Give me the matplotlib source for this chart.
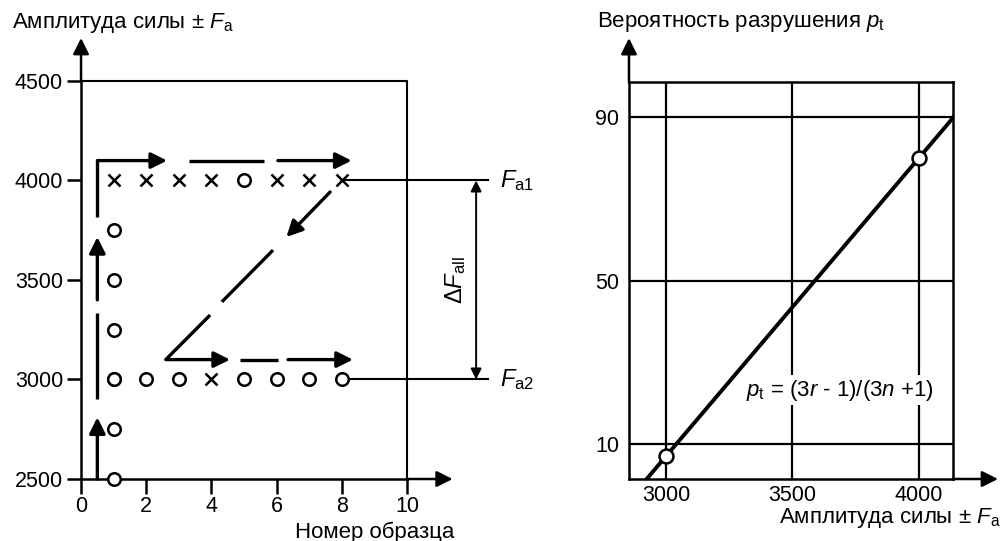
"""
Диаграмма: ступенчатый метод испытаний и вероятность разрушения
"""

import numpy as np
import matplotlib
matplotlib.use('Agg')
import matplotlib.pyplot as plt

matplotlib.rcParams['font.family'] = ['Liberation Sans', 'DejaVu Sans']
matplotlib.rcParams['mathtext.fontset'] = 'custom'
matplotlib.rcParams['mathtext.rm'] = 'Liberation Sans'
matplotlib.rcParams['mathtext.it'] = 'Liberation Sans:italic'
matplotlib.rcParams['mathtext.bf'] = 'Liberation Sans:bold'

FS_TICK = 15.5
FS = 16

# --- данные левого графика ---
specimens = [1, 2, 3, 4, 5, 6, 7, 8]
row_4000 = ['x', 'x', 'x', 'x', 'o', 'x', 'x', 'x']   # x - разрушение, o - нет
row_3000 = ['o', 'o', 'o', 'x', 'o', 'o', 'o', 'o']
first_levels = [2500, 2750, 3000, 3250, 3500, 3750]  # образец 1, ступени
F_a1 = 4000
F_a2 = 3000

# путь испытаний (штриховые стрелки): (x, y) точки, флаг стрелки в конце
path_segments = [
    ([0.5, 0.5], [2500, 2810], True),
    ([0.5, 0.5], [2900, 3335], False),
    ([0.5, 0.5], [3400, 3716], True),
    ([0.5, 0.5, 2.64], [3817, 4100, 4100], True),
    ([3.3, 5.6], [4100, 4100], False),
    ([6.04, 8.3], [4100, 4100], True),
    ([7.64, 6.3], [3942, 3716], True),
    ([5.89, 4.32], [3650, 3390], False),
    ([3.96, 2.6, 4.57], [3324, 3100, 3100], True),
    ([4.88, 6.04], [3100, 3100], False),
    ([6.35, 8.34], [3100, 3100], True),
]

# --- данные правого графика ---
amplitude = [3000, 4000]
p_fail = [7, 80]


def arrow(ax, x0, y0, x1, y1, lw=2.0, ms=18, style='-|>'):
    ax.annotate('', xy=(x1, y1), xytext=(x0, y0),
                arrowprops=dict(arrowstyle=style, lw=lw, color='black',
                                mutation_scale=ms, shrinkA=0, shrinkB=0),
                annotation_clip=False)


fig = plt.figure(figsize=(10.03, 5.41), dpi=100)

# ================= левый график =================
ax1 = fig.add_axes([0.0808, 0.1146, 0.325, 0.7357])
ax1.set_xlim(0, 10)
ax1.set_ylim(2500, 4500)
for s in ['top', 'right']:
    ax1.spines[s].set_visible(False)
for s in ['left', 'bottom']:
    ax1.spines[s].set_linewidth(1.8)
ax1.set_xticks([0, 2, 4, 6, 8, 10])
ax1.set_yticks([2500, 3000, 3500, 4000, 4500])
ax1.tick_params(direction='out', width=1.8, labelsize=FS_TICK)
ax1.tick_params(axis='y', length=10, pad=3)
ax1.tick_params(axis='x', length=10.5, pad=2)

# рамка сверху и справа
ax1.plot([0, 10, 10], [4500, 4500, 2500], color='black', lw=1.5, clip_on=False)
# стрелки осей
arrow(ax1, 0, 4500, 0, 4716, lw=1.8, ms=24)
arrow(ax1, 10, 2500, 11.4, 2500, lw=1.8, ms=24)

# штриховой путь
for xs, ys, head in path_segments:
    if head:
        ax1.plot(xs[:-1], ys[:-1], color='black', lw=2.4, solid_capstyle='butt')
        arrow(ax1, xs[-2], ys[-2], xs[-1], ys[-1], lw=2.4, ms=24)
    else:
        ax1.plot(xs, ys, color='black', lw=2.4, solid_capstyle='butt')

# линии уровней Fa1, Fa2
ax1.plot([8, 12.48], [F_a1, F_a1], color='black', lw=1.5, clip_on=False, zorder=1)
ax1.plot([8, 12.48], [F_a2, F_a2], color='black', lw=1.5, clip_on=False, zorder=1)
arrow(ax1, 12.12, 3500, 12.12, F_a1, lw=1.4, ms=16)
arrow(ax1, 12.12, 3500, 12.12, F_a2, lw=1.4, ms=16)
ax1.text(12.85, F_a1, r'$F_\mathrm{a1}$', fontsize=FS + 1, va='center', ha='left')
ax1.text(12.85, F_a2, r'$F_\mathrm{a2}$', fontsize=FS + 1, va='center', ha='left')
ax1.text(11.5, 3500, r'$\Delta F_\mathrm{all}$', fontsize=FS + 1, rotation=90,
         va='center', ha='center')


def draw_point(ax, x, y, kind):
    if kind == 'o':
        ax.plot(x, y, 'o', ms=9, mfc='white', mec='black', mew=1.8,
                zorder=5, clip_on=False)
    else:
        ax.plot(x, y, 'x', ms=8.5, mec='black', mew=1.8, zorder=5, clip_on=False)


for lvl in first_levels:
    draw_point(ax1, 1, lvl, 'o')
for x, k in zip(specimens, row_4000):
    draw_point(ax1, x, F_a1, k)
for x, k in zip(specimens, row_3000):
    draw_point(ax1, x, F_a2, k)

fig.text(12 / 1003, 1 - 28 / 541, r'Амплитуда силы ± $F_\mathrm{a}$',
         fontsize=FS, ha='left', va='baseline')
fig.text(454 / 1003, 1 - 538 / 541, 'Номер образца',
         fontsize=FS, ha='right', va='baseline')

# ================= правый график =================
ax2 = fig.add_axes([0.6271, 0.1146, 0.3230, 0.7338])
ax2.set_xlim(2854, 4134)
ax2.set_ylim(1.44, 98.56)
for s in ax2.spines.values():
    s.set_linewidth(1.8)
ax2.set_xticks([3000, 3500, 4000])
ax2.set_yticks([10, 50, 90])
ax2.tick_params(length=0, labelsize=FS_TICK)
ax2.tick_params(axis='x', pad=4)
ax2.tick_params(axis='y', pad=7)
ax2.grid(True, color='black', lw=1.6)
ax2.set_axisbelow(True)

arrow(ax2, 2854, 98.56, 2854, 109.3, lw=1.8, ms=24)
arrow(ax2, 4134, 1.44, 4312, 1.44, lw=1.8, ms=24)

# прямая через точки
k, b = np.polyfit(amplitude, p_fail, 1)
xx = np.array([2854, 4134])
ax2.plot(xx, k * xx + b, color='black', lw=2.8, zorder=3)
ax2.plot(amplitude, p_fail, 'o', ms=10, mfc='white', mec='black', mew=1.8, zorder=4)

ax2.text(3688, 23.2, r'$p_\mathrm{t}$ = (3$r$ - 1)/(3$n$ +1)', fontsize=FS,
         ha='center', va='center', zorder=5,
         bbox=dict(facecolor='white', edgecolor='none', pad=2))

fig.text(597 / 1003, 1 - 27 / 541, r'Вероятность разрушения $p_\mathrm{t}$',
         fontsize=FS, ha='left', va='baseline')
fig.text(1001 / 1003, 1 - 523 / 541, r'Амплитуда силы ± $F_\mathrm{a}$',
         fontsize=FS, ha='right', va='baseline')

fig.savefig('out.png', dpi=100)
